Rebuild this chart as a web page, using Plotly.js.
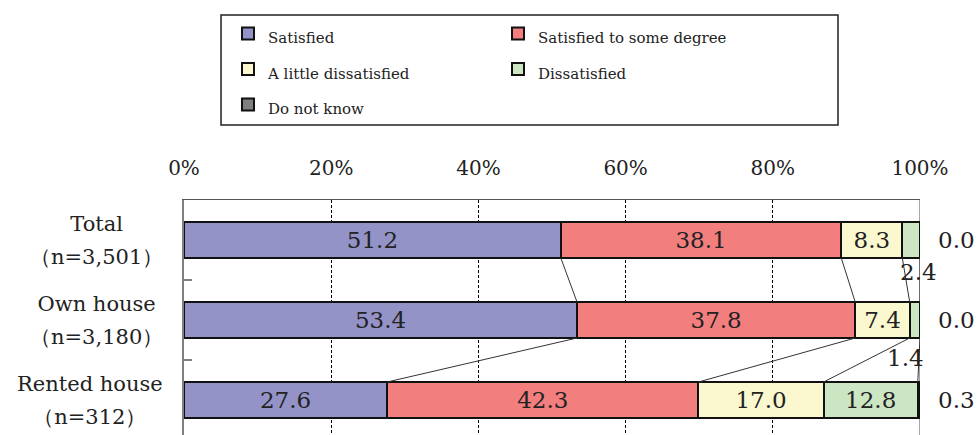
<!DOCTYPE html>
<html><head><meta charset="utf-8">
<script src="https://cdn.plot.ly/plotly-3.0.1.min.js"></script>
<style>html,body{margin:0;padding:0;overflow:hidden;background:#fff}</style>
</head><body><div id="chart" style="width:977px;height:435px"></div>
<script>
// ---- data ----
const categories = ['Total', 'Own house', 'Rented house'];
const sampleSizes = ['（n=3,501）', '（n=3,180）', '（n=312）'];
const seriesNames = ['Satisfied', 'Satisfied to some degree', 'A little dissatisfied', 'Dissatisfied', 'Do not know'];
const satisfied = [51.2, 53.4, 27.6];
const someDegree = [38.1, 37.8, 42.3];
const littleDissatisfied = [8.3, 7.4, 17.0];
const dissatisfied = [2.4, 1.4, 12.8];
const doNotKnow = [0.0, 0.0, 0.3];
const tickVals = [0, 20, 40, 60, 80, 100];
const tickText = ['0%', '20%', '40%', '60%', '80%', '100%'];

// ---- styles ----
const colors = ['#9393C7', '#F37E7E', '#FBF8CF', '#CCE6C4', '#808080'];
const FONT = 'DejaVu Serif';
const TXT = '#222';
const barWidth = 0.45;
const insideMin = 5;                 // labels smaller than this go outside
const smallShift = [[7, -32], [-9, -38], [0, 0]];  // [xshift, yshift] per category

const series = [satisfied, someDegree, littleDissatisfied, dissatisfied, doNotKnow];
const ypos = categories.map((c, i) => i);

const traces = series.map((vals, s) => ({
  type: 'bar', orientation: 'h',
  name: '<span style="font-size:15px;font-family:DejaVu Serif">' + seriesNames[s] + '</span>',
  x: vals, y: ypos, width: barWidth,
  marker: {color: colors[s], line: {color: '#111', width: 2}},
  text: vals.map(v => (s < 4 && v >= insideMin) ? v.toFixed(1) : ''),
  textposition: 'inside', insidetextanchor: 'middle', constraintext: 'none',
  textangle: 0,
  textfont: {family: FONT, size: 23, color: TXT},
  hoverinfo: 'skip'
}));

// cumulative boundaries
const cum = [];
let run = categories.map(() => 0);
series.forEach(vals => { run = run.map((r, i) => r + vals[i]); cum.push(run.slice()); });

// connector lines between adjacent bars
const lx = [], ly = [];
for (let k = 0; k < 4; k++) {
  for (let i = 0; i < categories.length - 1; i++) {
    lx.push(cum[k][i], cum[k][i + 1], null);
    ly.push(i + barWidth / 2, i + 1 - barWidth / 2, null);
  }
}
traces.push({type: 'scatter', mode: 'lines', x: lx, y: ly, line: {color: '#333', width: 1},
  showlegend: false, hoverinfo: 'skip'});

const annotations = [];
// category labels
categories.forEach((c, i) => {
  annotations.push({xref: 'paper', yref: 'y', x: 0, y: i, xanchor: 'right', yanchor: 'middle',
    xshift: -19, showarrow: false, align: 'center',
    text: '<span style="font-size:21px">' + c + '</span><br><span style="font-size:21px">' + sampleSizes[i] + '</span>',
    font: {family: FONT, size: 25, color: TXT}});
});
// small dissatisfied labels (outside)
dissatisfied.forEach((v, i) => {
  if (v < insideMin) {
    annotations.push({xref: 'x', yref: 'y', x: cum[2][i] + v / 2, y: i, showarrow: false,
      xshift: smallShift[i][0], yshift: smallShift[i][1], text: v.toFixed(1),
      font: {family: FONT, size: 23, color: TXT}});
  }
});
// do not know labels at right
doNotKnow.forEach((v, i) => {
  annotations.push({xref: 'x', yref: 'y', x: 100, y: i, xshift: 36, showarrow: false,
    text: v.toFixed(1), font: {family: FONT, size: 23, color: TXT}});
});

const layout = {
  width: 977, height: 435,
  margin: {l: 184, r: 57, t: 200, b: 0},
  paper_bgcolor: '#fff', plot_bgcolor: '#fff',
  barmode: 'stack',
  font: {family: FONT, color: TXT},
  xaxis: {range: [0, 100], side: 'top', tickvals: tickVals, ticktext: tickText,
    ticks: '', ticklabelstandoff: 16, tickfont: {family: FONT, size: 20, color: TXT},
    showgrid: true, gridcolor: '#000', griddash: '3px,2px', gridwidth: 1,
    showline: true, linecolor: '#555', linewidth: 1.5, zeroline: false, fixedrange: true},
  yaxis: {range: [2.4375, -0.5], tickvals: [0.5, 1.5], showticklabels: false,
    ticks: 'inside', ticklen: 8, tickcolor: '#808080', tickwidth: 1.5,
    showgrid: false, zeroline: false, showline: true, linecolor: '#808080', linewidth: 2, fixedrange: true},
  showlegend: true,
  legend: {orientation: 'h', x: 0.0598, xanchor: 'left', y: 1.805, yanchor: 'top',
    entrywidth: 225, font: {family: FONT, size: 25, color: TXT}, bgcolor: 'rgba(0,0,0,0)',
    borderwidth: 0, traceorder: 'normal'},
  shapes: [
    {type: 'rect', xref: 'paper', yref: 'paper', x0: 0.0503, x1: 0.8886, y0: 1.3191, y1: 1.7872,
      line: {color: '#222', width: 1.5}, fillcolor: 'rgba(0,0,0,0)'},
    {type: 'line', xref: 'x', yref: 'paper', x0: 100, x1: 100, y0: 0, y1: 1,
      line: {color: '#888', width: 1.5}, layer: 'between'}
  ],
  annotations: annotations
};

Plotly.newPlot('chart', traces, layout, {displayModeBar: false, staticPlot: true});
</script></body></html>
